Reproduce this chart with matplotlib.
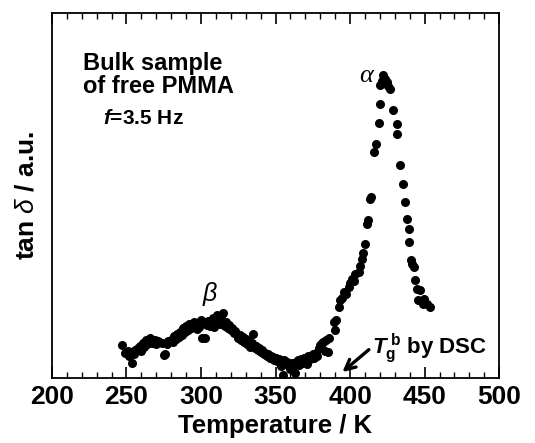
import numpy as np
import matplotlib
matplotlib.use('Agg')
import matplotlib.pyplot as plt
from matplotlib.ticker import MultipleLocator

plt.rcParams['font.family'] = ['Liberation Sans', 'DejaVu Sans']
plt.rcParams['mathtext.fontset'] = 'custom'
plt.rcParams['mathtext.rm'] = 'Liberation Sans:bold'
plt.rcParams['mathtext.bf'] = 'Liberation Sans:bold'
plt.rcParams['mathtext.it'] = 'Liberation Sans:italic'
plt.rcParams['mathtext.bfit'] = 'Liberation Sans:italic:bold'

# tan delta (arbitrary units) vs temperature
temp_beta = [247, 249, 251, 252, 254, 255, 256, 258, 259, 260, 261, 262, 263, 264, 265,
             266, 267, 268, 269, 270, 271, 272, 274, 275, 276, 277, 278, 280, 281, 282,
             283, 284, 285, 286, 287, 288, 289, 290, 291, 292, 293, 294, 295, 296, 297,
             298, 299, 300, 301, 302, 303, 304, 305, 306, 307, 308, 309, 310, 311, 312,
             313, 314, 315, 316, 317, 318, 319, 320, 321, 322, 323, 324, 325, 326, 327,
             328, 329, 330, 331, 332, 333, 334, 335, 336, 337, 338, 339, 340, 341, 342,
             343, 344, 345, 346, 347, 348, 349, 350, 351, 352, 353, 354, 355, 356, 357,
             358, 359, 360, 361, 362, 363, 364, 365, 366, 367, 368, 369, 370, 371, 372,
             373, 374, 375, 376, 377, 378, 379, 380, 381, 382, 383, 384, 385, 386]
tan_beta = [33, 25, 27, 22, 15, 24, 28, 30, 32, 27, 35, 31, 38, 34, 36,
            40, 35, 37, 38, 34, 37, 36, 35, 23, 24, 34, 37, 38, 36, 42,
            39, 44, 41, 46, 43, 50, 46, 52, 48, 54, 50, 51, 56, 53, 49,
            55, 51, 58, 40, 55, 40, 53, 57, 52, 55, 60, 51, 57, 63, 55,
            54, 58, 65, 52, 56, 50, 53, 48, 50, 45, 47, 44, 40, 43, 38,
            41, 36, 39, 34, 37, 31, 35, 44, 30, 32, 28, 30, 26, 28, 24,
            25, 22, 24, 20, 22, 21, 18, 20, 17, 19, 15, 12, 3, 18, 14,
            16, 13, 9, 15, 11, 5, 16, 18, 13, 19, 15, 20, 17, 14, 22,
            19, 21, 24, 20, 25, 22, 30, 33, 35, 36, 27, 38, 26, 40]

temp_alpha = [388.9, 390.0, 390.5, 392.3, 393.4, 394.5, 395.6, 397.0, 399.0, 400.0,
              401.2, 402.4, 403.5, 405.7, 406.8, 407.9, 409.0, 410.2, 411.3, 412.0,
              413.5, 414.2, 416.2, 417.6, 419.5, 420.2, 420.2, 421.5, 422.4, 423.5,
              424.7, 425.5, 426.9, 429.1, 431.4, 431.8, 433.6, 435.4, 437.0, 438.1,
              439.2, 439.2, 440.8, 441.6, 442.6, 443.7, 444.8, 447.0, 445.9, 449.3,
              448.8, 451.5, 453.7]
tan_alpha = [56, 48, 58, 71, 78, 80, 86, 84, 91, 95,
             99, 97, 104, 106, 112, 119, 125, 134, 154, 158,
             179, 181, 226, 234, 255, 274, 293, 297, 303, 299,
             296, 292, 289, 268, 254, 244, 213, 194, 176, 159,
             149, 136, 118, 114, 111, 98, 89, 88, 78, 79,
             74, 74, 71]

temp = np.array(temp_beta + temp_alpha)
tan_d = np.array(tan_beta + tan_alpha)

fig = plt.figure(figsize=(5.35, 4.43), dpi=100)
ax = fig.add_axes([0.097, 0.147, 0.836, 0.824])

ax.plot(temp, tan_d, 'o', color='black', ms=6.5, mew=0)

ax.set_xlim(200, 500)
ax.set_ylim(0, 365)
ax.xaxis.set_major_locator(MultipleLocator(50))
ax.xaxis.set_minor_locator(MultipleLocator(10))
ax.set_yticks([])
ax.tick_params(axis='x', which='major', direction='in', length=8, width=1.2,
               top=True, labelsize=19, pad=5)
ax.tick_params(axis='x', which='minor', direction='in', length=4, width=1,
               top=True)
for lbl in ax.get_xticklabels():
    lbl.set_fontweight('bold')
for s in ax.spines.values():
    s.set_linewidth(1.3)

ax.set_xlabel('Temperature / K', fontsize=18.5, fontweight='bold', labelpad=4)
ax.set_ylabel(r'tan $\delta$ / a.u.', fontsize=19, fontweight='bold', labelpad=10)

ax.text(221, 326, 'Bulk sample\nof free PMMA', fontsize=17, fontweight='bold',
        va='top', ha='left', linespacing=1.0)
ax.text(234, 254, r'$\mathbfit{f}$=3.5 Hz', fontsize=15, fontweight='bold',
        va='baseline')
ax.text(411, 302, 'α', fontsize=19, family='Liberation Serif', style='italic',
        ha='center', va='center')
ax.text(306, 84, 'β', fontsize=18, style='italic', ha='center', va='center')

ax.annotate('', xy=(393.4, 4), xytext=(414, 30),
            arrowprops=dict(arrowstyle='->', lw=2.4, color='black',
                            mutation_scale=18))
ax.text(414.5, 30, r'$\mathbfit{T}_\mathrm{g}^{\ \mathrm{b}}$ by DSC', fontsize=16,
        fontweight='bold', va='center', ha='left')

fig.savefig('out.png', dpi=100)
